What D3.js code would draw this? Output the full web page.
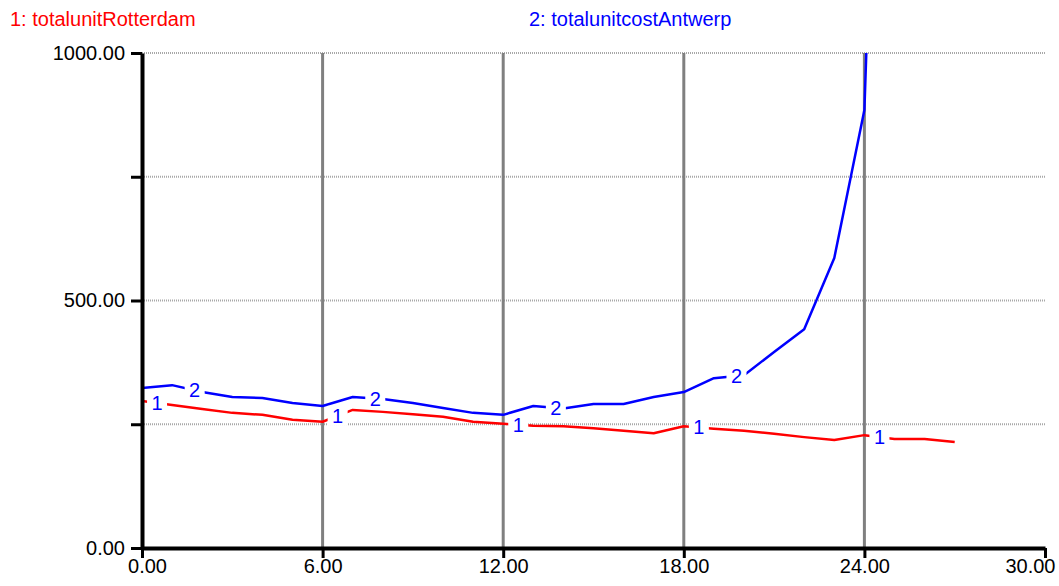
<!DOCTYPE html>
<html>
<head>
<meta charset="utf-8">
<script src="https://cdn.jsdelivr.net/npm/d3@7"></script>
<style>
  body { margin: 0; background: #fff; }
  svg { display: block; font-family: 'Liberation Sans', Arial, sans-serif; }
</style>
</head>
<body>
<svg></svg>
<script>
// series data
const timeRotterdam = [0, 1, 2, 3, 4, 5, 6, 7, 8, 9, 10, 11, 12, 13, 14, 15, 16, 17, 18, 19, 20, 21, 22, 23, 24, 25, 26, 27]
const totalunitRotterdam = [297, 289, 281, 273, 269, 259, 255, 279, 275, 270, 265, 255, 251, 247, 246, 242, 237, 232, 246, 241, 237, 231, 224, 218, 228, 220, 220, 214]

const timeAntwerp = [0, 1, 2, 3, 4, 5, 6, 7, 8, 9, 10, 11, 12, 13, 14, 15, 16, 17, 18, 19, 20, 21, 22, 23, 24, 25]
const totalunitcostAntwerp = [323, 329, 315, 305, 303, 293, 287, 305, 301, 293, 283, 273, 269, 287, 282, 291, 291, 305, 315, 343, 349, 396, 442, 586, 885, 2700]

const seriesNames = ['1: totalunitRotterdam', '2: totalunitcostAntwerp']
const seriesMarks = ['1', '2']
const seriesColors = ['#ff0000', '#0000ff']

// where the small number markers sit along each line
const markTimesRotterdam = [0.5, 6.5, 12.5, 18.5, 24.5]
const markTimesAntwerp = [1.75, 7.75, 13.75, 19.75]

const xTicks = [0, 6, 12, 18, 24, 30]
const yTicks = [0, 250, 500, 750, 1000]
const yLabelled = [0, 500, 1000]

const width = 1059,
  height = 586

const x = d3.scaleLinear()
  .domain([0, 30])
  .range([142, 1045])

const y = d3.scaleLinear()
  .domain([0, 1000])
  .range([548, 53])

const svg = d3.select('svg')
  .attr('width', width)
  .attr('height', height)

svg.append('defs').append('clipPath')
  .attr('id', 'plot-clip')
  .append('rect')
  .attr('x', x(0))
  .attr('y', y(1000))
  .attr('width', x(30) - x(0))
  .attr('height', y(0) - y(1000))

// legend
svg.selectAll('.legend')
  .data(seriesNames)
  .enter().append('text')
  .attr('class', 'legend')
  .attr('x', (d, i) => i === 0 ? 10 : 529)
  .attr('y', 26)
  .attr('font-size', 20)
  .attr('fill', (d, i) => seriesColors[i])
  .text(d => d)

// grid
svg.append('g')
  .selectAll('line')
  .data(yTicks.filter(d => d > 0))
  .enter().append('line')
  .attr('x1', x(0))
  .attr('x2', x(30))
  .attr('y1', d => y(d))
  .attr('y2', d => y(d))
  .attr('stroke', '#a8a8a8')
  .attr('stroke-width', 2)
  .attr('stroke-dasharray', '1,1')

svg.append('g')
  .selectAll('line')
  .data(xTicks.filter(d => d > 0 && d < 30))
  .enter().append('line')
  .attr('x1', d => x(d))
  .attr('x2', d => x(d))
  .attr('y1', y(1000))
  .attr('y2', y(0))
  .attr('stroke', '#808080')
  .attr('stroke-width', 3)

// lines
const series = [
  { times: timeRotterdam, values: totalunitRotterdam, marks: markTimesRotterdam },
  { times: timeAntwerp, values: totalunitcostAntwerp, marks: markTimesAntwerp }
]

const line = d3.line()
  .x(d => x(d[0]))
  .y(d => y(d[1]))

const plot = svg.append('g')
  .attr('clip-path', 'url(#plot-clip)')

series.forEach((s, i) => {
  plot.append('path')
    .datum(s.times.map((t, j) => [t, s.values[j]]))
    .attr('fill', 'none')
    .attr('stroke', seriesColors[i])
    .attr('stroke-width', 2.5)
    .attr('stroke-linejoin', 'round')
    .attr('d', line)
})

// number markers on the lines
series.forEach((s, i) => {
  const valueAt = d3.scaleLinear().domain(s.times).range(s.values)
  const g = svg.append('g')
  s.marks.forEach(t => {
    const cx = x(t),
      cy = y(valueAt(t))
    g.append('rect')
      .attr('x', cx - 10)
      .attr('y', cy - 10)
      .attr('width', 20)
      .attr('height', 20)
      .attr('fill', '#fff')
    g.append('text')
      .attr('x', cx)
      .attr('y', cy + 7)
      .attr('text-anchor', 'middle')
      .attr('font-size', 20)
      .attr('fill', '#0000ff')
      .text(seriesMarks[i])
  })
})

// axes
const yAxis = svg.append('g')
  .attr('transform', `translate(${x(0)},0)`)
  .call(d3.axisLeft(y)
    .tickValues(yTicks)
    .tickSize(11)
    .tickSizeOuter(0)
    .tickPadding(6)
    .tickFormat(d => yLabelled.includes(d) ? d3.format('.2f')(d) : ''))

const xAxis = svg.append('g')
  .attr('transform', `translate(0,${y(0)})`)
  .call(d3.axisBottom(x)
    .tickValues(xTicks)
    .tickSize(10)
    .tickSizeOuter(0)
    .tickPadding(1)
    .tickFormat(d3.format('.2f')))

;[yAxis, xAxis].forEach(a => {
  a.select('.domain').attr('stroke', '#000').attr('stroke-width', 4)
  a.selectAll('.tick line').attr('stroke', '#000').attr('stroke-width', 3)
  a.selectAll('.tick text')
    .attr('font-size', 20)
    .attr('font-family', "'Liberation Sans', Arial, sans-serif")
    .attr('fill', '#000')
})

// end labels of the time axis are nudged inwards
xAxis.selectAll('.tick text')
  .filter(d => d === 0)
  .attr('x', 5)
xAxis.selectAll('.tick text')
  .filter(d => d === 30)
  .attr('text-anchor', 'end')
  .attr('x', 10)
</script>
</body>
</html>
